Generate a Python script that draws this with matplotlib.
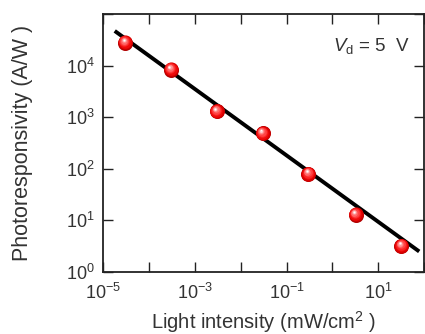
import matplotlib
matplotlib.use("Agg")
import matplotlib.pyplot as plt
import numpy as np
from matplotlib.transforms import offset_copy

plt.rcParams['font.family'] = ['Liberation Sans', 'DejaVu Sans']
plt.rcParams['mathtext.fontset'] = 'custom'
plt.rcParams['mathtext.rm'] = 'Liberation Sans'
plt.rcParams['mathtext.it'] = 'Liberation Sans:italic'
plt.rcParams['mathtext.default'] = 'regular'

# measured photoresponsivity vs light intensity
intensity = [3.0e-5, 3.0e-4, 3.0e-3, 3.0e-2, 3.0e-1, 3.2, 32.0]      # mW/cm^2
responsivity = [2.8e4, 8.4e3, 1.3e3, 4.9e2, 80.0, 13.0, 3.2]       # A/W

# power-law fit line end points
fit_x = [1.8e-5, 78.0]
fit_y = [4.7e4, 2.5]

fig = plt.figure(figsize=(4.25, 3.34), dpi=100)
ax = fig.add_axes([0.2424, 0.1856, 0.7556, 0.7724])

ax.plot(fit_x, fit_y, color='k', lw=2.8, solid_capstyle='butt', zorder=2)

# shaded red spheres: stacked discs getting lighter toward the upper left
layers = [
    (10.8, '#b00000', 0.0, 0.0),
    (10.2, '#d80000', 0.0, 0.2),
    (9.0, '#ee0a0a', -0.2, 0.5),
    (7.6, '#fa2424', -0.4, 0.8),
    (6.2, '#ff4444', -0.6, 1.1),
    (4.8, '#ff6a6a', -0.8, 1.4),
    (3.3, '#ff9a9a', -0.9, 1.7),
    (2.1, '#ffd0d0', -1.0, 1.9),
    (1.1, '#ffffff', -1.0, 2.0),
]
for size, col, dx, dy in layers:
    tr = offset_copy(ax.transData, fig=fig, x=dx, y=dy, units='points')
    ax.plot(intensity, responsivity, ls='none', marker='o', ms=size,
            mfc=col, mec='none', transform=tr, zorder=3)

ax.set_xscale('log')
ax.set_yscale('log')
ax.set_xlim(1e-5, 1e2)
ax.set_ylim(1e0, 1e5)
ax.xaxis.set_minor_locator(plt.NullLocator())
ax.yaxis.set_minor_locator(plt.NullLocator())

xt = [1e-5, 1e-4, 1e-3, 1e-2, 1e-1, 1e0, 1e1, 1e2]
ax.set_xticks(xt)
ax.set_xticklabels(['$10^{-5}$', '', '$10^{-3}$', '', '$10^{-1}$', '', '$10^{1}$', ''])
yt = [1e0, 1e1, 1e2, 1e3, 1e4, 1e5]
ax.set_yticks(yt)
ax.set_yticklabels(['$10^{0}$', '$10^{1}$', '$10^{2}$', '$10^{3}$', '$10^{4}$', ''])

ax.tick_params(which='both', direction='in', top=True, right=True,
               length=7, width=1.0, labelsize=13, color='#222222',
               labelcolor='#333333')
ax.tick_params(axis='x', pad=8)
ax.tick_params(axis='y', pad=6)
for sp in ax.spines.values():
    sp.set_linewidth(1.3)
    sp.set_color('#222222')

ax.set_xlabel('Light intensity (mW/cm$^{2}$ )', fontsize=14.5, color='#333333',
              labelpad=4)
ax.set_ylabel('Photoresponsivity (A/W )', fontsize=15.5, color='#333333',
              labelpad=24)

ax.text(0.715, 0.875, r'$\mathit{V}_{\mathrm{d}}$ = 5  V', transform=ax.transAxes,
        fontsize=13.5, color='#333333', ha='left', va='center')

fig.savefig('out.png', dpi=100)
